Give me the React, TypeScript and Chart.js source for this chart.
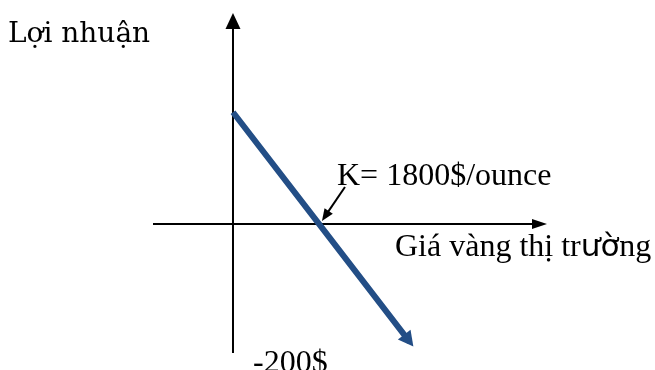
import { useEffect, useRef } from "react";
import { Chart, registerables } from "chart.js";

Chart.register(...registerables);

// Payoff line: gold price ($/ounce) against profit ($)
const prices = [0, 1800, 3700];
const profits = [180, 0, -190];
const strikeIndex = 1;

// Value ranges covered by the drawn axes
const priceRange = [-1675, 6575];
const profitRange = [-208, 340];

const yAxisTitle = "Lợi nhuận";
// The word "trường" mixes a serif face with a sans fallback for "ườ"
const xAxisTitleParts = ["Giá vàng thị tr", "ườ", "ng"];
const strikeLabel = "K= 1800$/ounce";
const lossLabel = "-200$";

const LINE_BLUE = "#234e86";
const SERIF = "'Liberation Serif', serif";

function arrowHead(
  ctx: CanvasRenderingContext2D,
  tipX: number,
  tipY: number,
  ux: number,
  uy: number,
  length: number,
  half: number
) {
  const bx = tipX - ux * length;
  const by = tipY - uy * length;
  ctx.beginPath();
  ctx.moveTo(tipX, tipY);
  ctx.lineTo(bx - uy * half, by + ux * half);
  ctx.lineTo(bx + uy * half, by - ux * half);
  ctx.closePath();
  ctx.fill();
}

const diagramPlugin = {
  id: "payoffDiagram",
  beforeDatasetsDraw(chart: any) {
    const { ctx, chartArea: a, scales } = chart;
    const x0 = scales.x.getPixelForValue(0);
    const y0 = scales.y.getPixelForValue(0);
    ctx.save();
    ctx.strokeStyle = "#000";
    ctx.fillStyle = "#000";
    ctx.lineWidth = 2;

    // horizontal axis with arrow
    ctx.beginPath();
    ctx.moveTo(a.left, y0);
    ctx.lineTo(a.right - 14, y0);
    ctx.stroke();
    arrowHead(ctx, a.right, y0, 1, 0, 15, 5);

    // vertical axis with arrow
    ctx.beginPath();
    ctx.moveTo(x0, a.bottom);
    ctx.lineTo(x0, a.top + 15);
    ctx.stroke();
    arrowHead(ctx, x0, a.top, 0, -1, 16, 7.5);
    ctx.restore();
  },
  afterDatasetsDraw(chart: any) {
    const { ctx } = chart;
    const pts = chart.getDatasetMeta(0).data;
    const end = pts[pts.length - 1];
    const prev = pts[pts.length - 2];
    const dx = end.x - prev.x;
    const dy = end.y - prev.y;
    const len = Math.hypot(dx, dy);
    const ux = dx / len;
    const uy = dy / len;

    ctx.save();
    // arrow head at the end of the payoff line
    ctx.fillStyle = LINE_BLUE;
    arrowHead(ctx, end.x + ux * 6, end.y + uy * 6, ux, uy, 15, 8);

    // pointer from the strike label to the break-even point
    const k = pts[strikeIndex];
    const sx = k.x + 26;
    const sy = k.y - 37;
    const tx = k.x + 3;
    const ty = k.y - 3;
    const kl = Math.hypot(tx - sx, ty - sy);
    const kux = (tx - sx) / kl;
    const kuy = (ty - sy) / kl;
    ctx.strokeStyle = "#000";
    ctx.fillStyle = "#000";
    ctx.lineWidth = 2;
    ctx.beginPath();
    ctx.moveTo(sx, sy);
    ctx.lineTo(tx - kux * 10, ty - kuy * 10);
    ctx.stroke();
    arrowHead(ctx, tx, ty, kux, kuy, 12, 5);
    ctx.restore();
  },
  afterDraw(chart: any) {
    const { ctx } = chart;
    ctx.save();
    ctx.fillStyle = "#000";
    ctx.textBaseline = "alphabetic";
    ctx.textAlign = "left";

    ctx.font = "28px 'DejaVu Serif', serif";
    ctx.fillText(yAxisTitle, 8, 42);

    ctx.font = `32px ${SERIF}`;
    ctx.fillText(strikeLabel, 337, 185);
    ctx.fillText(lossLabel, 253, 372);

    // axis title, drawn piece by piece
    let cx = 395;
    const fonts = [`32px ${SERIF}`, "31px 'DejaVu Sans', sans-serif", `32px ${SERIF}`];
    xAxisTitleParts.forEach((part, i) => {
      ctx.font = fonts[i];
      ctx.fillText(part, cx, 256);
      cx += ctx.measureText(part).width;
    });
    ctx.restore();
  },
};

export default function App() {
  const canvasRef = useRef<HTMLCanvasElement | null>(null);

  useEffect(() => {
    const canvas = canvasRef.current;
    if (!canvas) return;
    const chart = new Chart(canvas, {
      type: "scatter",
      data: {
        datasets: [
          {
            data: prices.map((p, i) => ({ x: p, y: profits[i] })),
            showLine: true,
            borderColor: LINE_BLUE,
            backgroundColor: LINE_BLUE,
            borderWidth: 6,
            borderCapStyle: "butt",
            pointRadius: 0,
            pointHoverRadius: 0,
            tension: 0,
            clip: false,
          } as any,
        ],
      },
      options: {
        responsive: false,
        animation: false,
        layout: { padding: { left: 153, right: 108, top: 13, bottom: 17 } },
        scales: {
          x: { type: "linear", min: priceRange[0], max: priceRange[1], display: false },
          y: { type: "linear", min: profitRange[0], max: profitRange[1], display: false },
        },
        plugins: {
          legend: { display: false },
          tooltip: { enabled: false },
          title: { display: false },
        },
        events: [],
      },
      plugins: [diagramPlugin],
    });
    return () => chart.destroy();
  }, []);

  return (
    <div
      style={{
        position: "fixed",
        left: 0,
        top: 0,
        width: 655,
        height: 370,
        background: "#ffffff",
        overflow: "hidden",
      }}
    >
      <canvas ref={canvasRef} width={655} height={370} style={{ display: "block" }} />
    </div>
  );
}
